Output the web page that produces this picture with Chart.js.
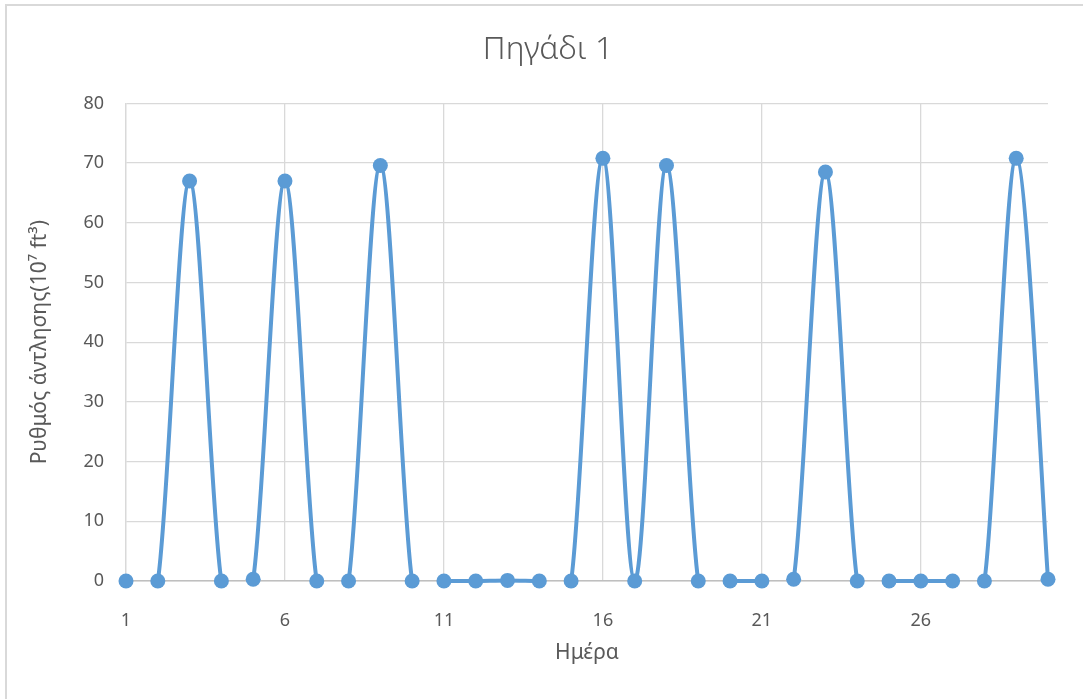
<!DOCTYPE html>
<html>
<head>
<meta charset="utf-8">
<title>Πηγάδι 1</title>
<script src="https://cdn.jsdelivr.net/npm/chart.js@4/dist/chart.umd.min.js"></script>
<style>
    html, body { margin: 0; padding: 0; background: #fff; overflow: hidden; }
    #wrap { position: relative; width: 1083px; height: 699px; }
    #frame {
        position: absolute; left: 5px; top: 4px; width: 1200px; height: 800px;
        border: 2px solid #d9d9d9; box-sizing: border-box; pointer-events: none;
    }
    canvas { position: absolute; left: 0; top: 0; }
</style>
</head>
<body>
<div id="wrap">
    <div id="frame"></div>
    <canvas id="wellChart" width="1083" height="699"></canvas>
</div>
<script>
// Pumping rate per day, well 1
const days = [1, 2, 3, 4, 5, 6, 7, 8, 9, 10, 11, 12, 13, 14, 15, 16, 17, 18, 19, 20, 21, 22, 23, 24, 25, 26, 27, 28, 29, 30];
const pumpRate = [0, 0, 67, 0, 0.3, 67, 0, 0, 69.6, 0, 0, 0, 0.1, 0, 0, 70.8, 0, 69.6, 0, 0, 0, 0.3, 68.5, 0, 0, 0, 0, 0, 70.8, 0.3];
const xTicks = [1, 6, 11, 16, 21, 26];
const yTicks = [0, 10, 20, 30, 40, 50, 60, 70, 80];

const blue = '#5b9bd5';
const gridGray = '#d9d9d9';
const textGray = '#595959';
const fontFamily = '"Noto Sans", "Open Sans", sans-serif';

const points = days.map((d, i) => ({ x: d, y: pumpRate[i] }));

// Excel style smoothing: catmull-rom control points (1/6 of neighbour difference)
const excelSmooth = {
    id: 'excelSmooth',
    beforeDatasetDraw(chart, args) {
        const ds = chart.data.datasets[args.index];
        if (ds.showLine === false) return;
        const line = args.meta.dataset;
        const pts = args.meta.data;
        line.updateControlPoints(chart.chartArea, 'x');
        pts.forEach((p, i) => {
            const prev = pts[i - 1] || p;
            const next = pts[i + 1] || p;
            const dx = (next.x - prev.x) / 6;
            const dy = (next.y - prev.y) / 6;
            p.cp1x = p.x - dx;
            p.cp1y = p.y - dy;
            p.cp2x = p.x + dx;
            p.cp2y = p.y + dy;
        });
    }
};

function createWellChart() {
    const ctx = document.getElementById('wellChart').getContext('2d');
    new Chart(ctx, {
        type: 'line',
        data: {
            datasets: [
                {
                    label: 'markers',
                    data: points,
                    showLine: false,
                    clip: false,
                    pointRadius: 7.5,
                    pointBorderWidth: 0,
                    pointBackgroundColor: blue,
                    pointBorderColor: blue
                },
                {
                    label: 'line',
                    data: points,
                    borderColor: blue,
                    borderWidth: 4,
                    tension: 0.3,
                    capBezierPoints: false,
                    pointRadius: 0,
                    clip: { left: 5, top: 10, right: 5, bottom: 2 }
                }
            ]
        },
        options: {
            responsive: false,
            animation: false,
            layout: { padding: { left: 48, right: 35, top: 0, bottom: 0 } },
            plugins: {
                legend: { display: false },
                tooltip: { enabled: false },
                title: {
                    display: true,
                    text: 'Πηγάδι 1',
                    color: textGray,
                    font: { family: fontFamily, size: 32, weight: '300' },
                    padding: { top: 31, bottom: 34 }
                }
            },
            scales: {
                x: {
                    type: 'linear',
                    min: 1,
                    max: 30,
                    afterBuildTicks: scale => { scale.ticks = xTicks.map(v => ({ value: v })); },
                    afterFit: scale => { scale.height = 118; },
                    grid: { color: gridGray, lineWidth: 1.3, drawTicks: false },
                    border: { color: '#bfbfbf', width: 1.5 },
                    ticks: {
                        color: textGray,
                        padding: 29,
                        maxRotation: 0,
                        font: { family: fontFamily, size: 18 }
                    },
                    title: {
                        display: true,
                        text: 'Ημέρα',
                        color: textGray,
                        font: { family: fontFamily, size: 21 },
                        padding: { top: 0, bottom: 33 }
                    }
                },
                y: {
                    min: 0,
                    max: 80,
                    afterBuildTicks: scale => { scale.ticks = yTicks.map(v => ({ value: v })); },
                    afterFit: scale => { scale.width = 78; },
                    grid: { color: gridGray, lineWidth: 1.3, drawTicks: false },
                    border: { color: gridGray, width: 1.3 },
                    ticks: {
                        color: textGray,
                        padding: 22,
                        font: { family: fontFamily, size: 18 }
                    },
                    title: {
                        display: true,
                        text: 'Ρυθμός άντλησης(10⁷ ft³)',
                        color: textGray,
                        font: { family: fontFamily, size: 21 },
                        padding: { top: -21, bottom: 0 }
                    }
                }
            }
        },
        plugins: [excelSmooth]
    });
}

document.addEventListener('DOMContentLoaded', createWellChart);
</script>
</body>
</html>
